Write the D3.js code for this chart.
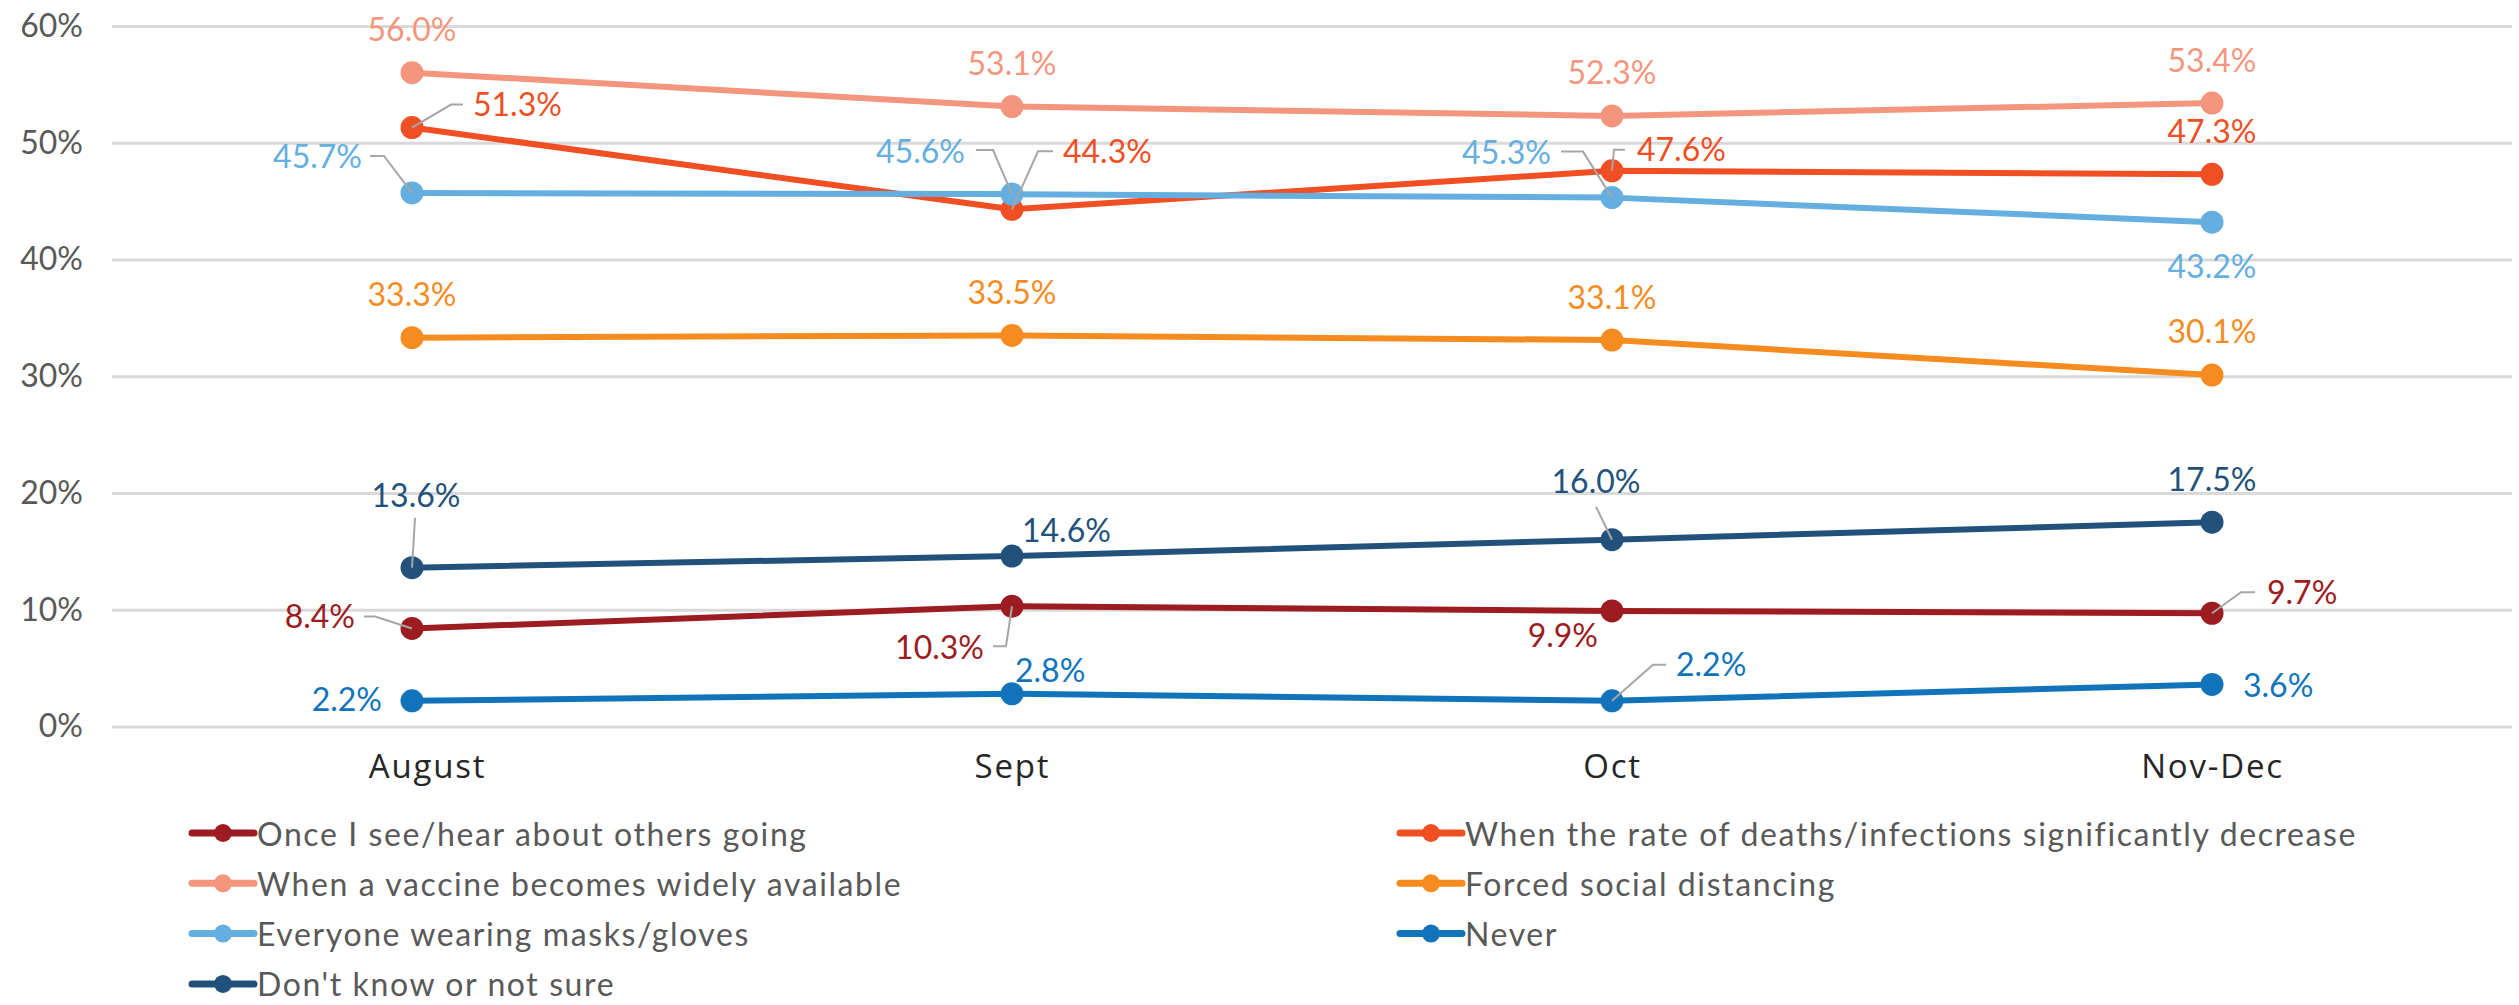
<!DOCTYPE html>
<html>
<head>
<meta charset="utf-8">
<script src="https://cdn.jsdelivr.net/npm/d3@7"></script>
<style>
  html, body { margin: 0; padding: 0; background: #fff; }
  svg { display: block; }
</style>
</head>
<body>
<div id="chart"></div>
<script>
// survey waves
const months = ["August", "Sept", "Oct", "Nov-Dec"];

// series, in legend order
const seriesNames = [
    "Once I see/hear about others going",
    "When the rate of deaths/infections significantly decrease",
    "When a vaccine becomes widely available",
    "Forced social distancing",
    "Everyone wearing masks/gloves",
    "Never",
    "Don't know or not sure"
];
const othersGoing = [8.4, 10.3, 9.9, 9.7];
const ratesDecrease = [51.3, 44.3, 47.6, 47.3];
const vaccine = [56.0, 53.1, 52.3, 53.4];
const distancing = [33.3, 33.5, 33.1, 30.1];
const masks = [45.7, 45.6, 45.3, 43.2];
const never = [2.2, 2.8, 2.2, 3.6];
const notSure = [13.6, 14.6, 16.0, 17.5];

const yTicks = [0, 10, 20, 30, 40, 50, 60];

const colors = ["#9c1c22", "#f04e23", "#f4967e", "#f68b1f", "#64aee0", "#1174bb", "#22527b"];
const allValues = [othersGoing, ratesDecrease, vaccine, distancing, masks, never, notSure];

// where each data label sits relative to its dot (px), plus optional leader line
const above = {dx: 0, dy: -44, a: "middle"};
const labelPos = [
    [ {dx: -57, dy: -13, a: "end", lead: [[0, 0], [-37, -12], [-48, -12]]},
      {dx: -28, dy: 40, a: "end", lead: [[0, 0], [-6, 40], [-19, 40]]},
      {dx: -14, dy: 24, a: "end"},
      {dx: 55, dy: -22, a: "start", lead: [[0, 0], [29, -21], [43, -21]]} ],
    [ {dx: 61, dy: -24, a: "start", lead: [[0, 0], [39, -23], [51, -23]]},
      {dx: 51, dy: -59, a: "start", lead: [[0, 0], [26, -58], [41, -58]]},
      {dx: 25, dy: -22, a: "start", lead: [[0, 0], [2, -21], [13, -21]]},
      above ],
    [ above, above, above, above ],
    [ above, above, above, {dx: 0, dy: -45, a: "middle"} ],
    [ {dx: -50, dy: -37, a: "end", lead: [[0, 0], [-28, -37], [-42, -37]]},
      {dx: -47, dy: -44, a: "end", lead: [[0, 0], [-19, -44], [-36, -44]]},
      {dx: -61, dy: -46, a: "end", lead: [[0, 0], [-29, -46], [-51, -46]]},
      {dx: 0, dy: 43, a: "middle"} ],
    [ {dx: -30, dy: -2, a: "end"},
      {dx: 3, dy: -24, a: "start"},
      {dx: 64, dy: -37, a: "start", lead: [[0, 0], [41, -36], [54, -36]]},
      {dx: 31, dy: 0, a: "start"} ],
    [ {dx: 4, dy: -73, a: "middle", lead: [[0, 0], [3, -50]]},
      {dx: 10, dy: -27, a: "start"},
      {dx: -16, dy: -59, a: "middle", lead: [[0, 0], [-16, -33]]},
      above ]
];

const width = 2519, height = 1005;
const plotLeft = 112, plotRight = 2512, plotTop = 26, plotBottom = 726.5;

const svg = d3.select("#chart").append("svg")
    .attr("width", width)
    .attr("height", height);

const x = d3.scalePoint()
    .domain(months)
    .range([plotLeft, plotRight])
    .padding(0.5);

const y = d3.scaleLinear()
    .domain([0, 60])
    .range([plotBottom, plotTop]);

// gridlines + y labels
const yAxis = svg.append("g")
    .attr("transform", "translate(" + plotLeft + ",0)")
    .call(d3.axisLeft(y)
        .tickValues(yTicks)
        .tickSize(-(plotRight - plotLeft))
        .tickPadding(29)
        .tickFormat(d => d + "%"));
yAxis.select(".domain").remove();
yAxis.selectAll("line").attr("stroke", "#d9d9d9").attr("stroke-width", 3);
yAxis.selectAll("text")
    .attr("font-family", "Lato, sans-serif")
    .attr("font-size", 32)
    .attr("fill", "#595959");

// category labels (the first one sits a little right of its point in the original)
const xAxis = svg.append("g")
    .attr("transform", "translate(0," + plotBottom + ")")
    .call(d3.axisBottom(x).tickSize(0).tickPadding(28));
xAxis.select(".domain").remove();
xAxis.selectAll("text")
    .attr("font-family", "'Open Sans', sans-serif")
    .attr("font-size", 33)
    .attr("letter-spacing", 1.8)
    .attr("fill", "#262626")
    .attr("dx", (d, i) => i === 0 ? 15 : 0);

const line = d3.line()
    .x((d, i) => x(months[i]))
    .y(d => y(d));

allValues.forEach((vals, s) => {
    const g = svg.append("g");
    g.append("path")
        .datum(vals)
        .attr("d", line)
        .attr("fill", "none")
        .attr("stroke", colors[s])
        .attr("stroke-width", 6)
        .attr("stroke-linejoin", "round");
    g.selectAll("circle")
        .data(vals)
        .enter().append("circle")
        .attr("cx", (d, i) => x(months[i]))
        .attr("cy", d => y(d))
        .attr("r", 11.5)
        .attr("fill", colors[s]);
});

// data labels with leader lines
const labels = svg.append("g");
allValues.forEach((vals, s) => {
    vals.forEach((v, i) => {
        const cx = x(months[i]), cy = y(v);
        const p = labelPos[s][i];
        if (p.lead) {
            labels.append("polyline")
                .attr("points", p.lead.map(q => (cx + q[0]) + "," + (cy + q[1])).join(" "))
                .attr("fill", "none")
                .attr("stroke", "#a6a6a6")
                .attr("stroke-width", 2);
        }
        labels.append("text")
            .attr("x", cx + p.dx)
            .attr("y", cy + p.dy)
            .attr("text-anchor", p.a)
            .attr("dominant-baseline", "central")
            .attr("font-family", "Lato, sans-serif")
            .attr("font-size", 32)
            .attr("fill", colors[s])
            .text(v.toFixed(1) + "%");
    });
});

// legend, two columns, filled row by row
const legendCols = [192, 1400];
const legendRow0 = 833, legendRowStep = 50.3;
const legend = svg.append("g");
seriesNames.forEach((name, s) => {
    const lx = legendCols[s % 2];
    const ly = legendRow0 + Math.floor(s / 2) * legendRowStep;
    legend.append("line")
        .attr("x1", lx).attr("x2", lx + 62)
        .attr("y1", ly).attr("y2", ly)
        .attr("stroke", colors[s])
        .attr("stroke-width", 7)
        .attr("stroke-linecap", "round");
    legend.append("circle")
        .attr("cx", lx + 31).attr("cy", ly)
        .attr("r", 9)
        .attr("fill", colors[s]);
    legend.append("text")
        .attr("x", lx + 65)
        .attr("y", ly)
        .attr("dominant-baseline", "central")
        .attr("font-family", "Lato, sans-serif")
        .attr("font-size", 32)
        .attr("letter-spacing", 1.6)
        .attr("fill", "#595959")
        .text(name);
});
</script>
</body>
</html>
